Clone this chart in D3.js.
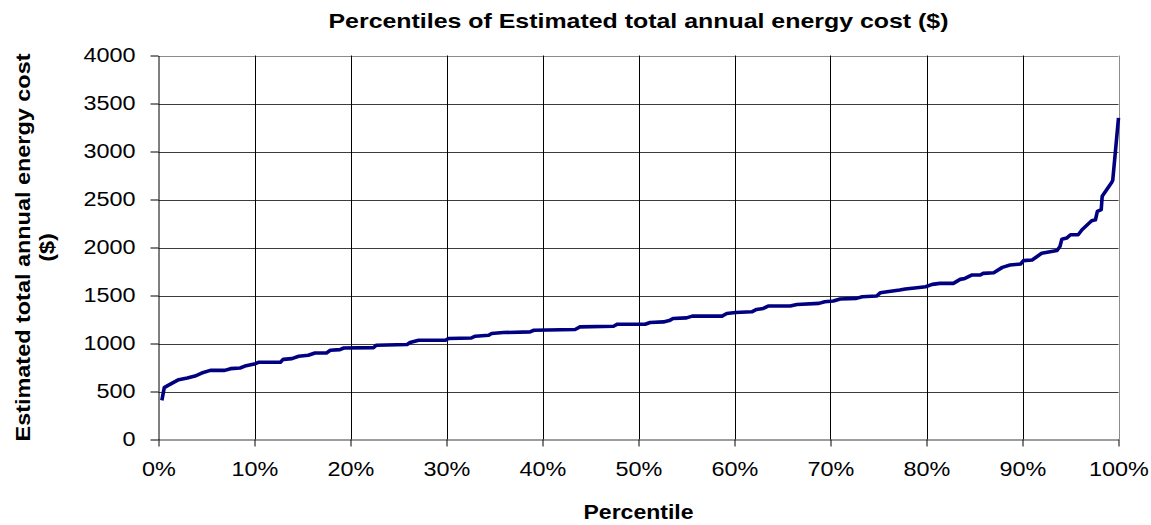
<!DOCTYPE html>
<html>
<head>
<meta charset="utf-8">
<script src="https://cdn.jsdelivr.net/npm/d3@7"></script>
<style>
  html, body { margin: 0; padding: 0; background: #fff; }
  svg { display: block; font-family: Arial, "Liberation Sans", sans-serif; }
</style>
</head>
<body>
<svg id="chart" width="1151" height="525"></svg>
<script>
const percentiles = [0.35,0.6,1.0,2.1,3.0,3.8,4.5,5.4,6.9,7.5,8.5,9.0,10.1,10.4,12.7,13.0,13.9,14.6,15.6,16.3,17.5,17.9,18.9,19.3,22.4,22.7,25.9,26.2,27.1,29.9,30.2,32.6,33.0,34.4,34.7,35.9,38.7,39.1,43.4,43.9,47.4,47.8,50.7,51.2,52.6,53.3,53.6,55.0,55.6,58.7,59.2,60.1,61.8,62.3,63.0,63.5,65.8,66.5,68.8,69.4,70.3,71.0,72.7,73.3,74.8,75.2,75.9,77.2,77.8,79.0,79.9,80.6,81.4,82.8,83.5,84.0,84.7,85.6,85.9,87.0,87.9,88.7,89.8,90.1,91.0,92.0,93.6,93.9,94.1,94.6,95.0,95.8,96.2,97.2,97.6,97.8,98.2,98.3,99.3,99.4,100];
const costs = [407,540,564,623,640,661,692,720,720,738,745,765,790,804,804,835,842,867,877,901,901,929,936,953,957,982,989,1010,1034,1034,1052,1058,1076,1086,1104,1114,1121,1138,1146,1173,1180,1201,1201,1219,1225,1243,1260,1267,1285,1285,1313,1323,1330,1355,1365,1390,1390,1407,1418,1435,1442,1463,1470,1487,1494,1529,1540,1557,1567,1581,1591,1616,1626,1626,1668,1678,1713,1713,1730,1737,1793,1817,1828,1863,1870,1940,1968,2010,2087,2098,2133,2133,2185,2279,2289,2376,2394,2533,2680,2700,3350];
const xTicks = [0,10,20,30,40,50,60,70,80,90,100];
const yTicks = [0,500,1000,1500,2000,2500,3000,3500,4000];
const titleText = "Percentiles of Estimated total annual energy cost ($)";
const xTitle = "Percentile";
const yTitleLines = ["Estimated total annual energy cost", "($)"];

const FONT = "Arial, 'Liberation Sans', sans-serif";
const STRETCH = 1.17;
function stretch(sel) {
  sel.each(function() {
    const w = this.getComputedTextLength();
    d3.select(this).attr("textLength", w * STRETCH).attr("lengthAdjust", "spacingAndGlyphs");
  });
}

const svg = d3.select("#chart");
const L = 158.5, R = 1118.5, T = 55.5, B = 439.5;
const x = d3.scaleLinear().domain([0, 100]).range([L, R]);
const y = d3.scaleLinear().domain([0, 4000]).range([B, T]);

// horizontal gridlines
svg.append("g").selectAll("line").data(yTicks.filter(d => d > 0)).join("line")
  .attr("x1", L).attr("x2", R)
  .attr("y1", d => Math.round(y(d)) + 0.5).attr("y2", d => Math.round(y(d)) + 0.5)
  .attr("stroke", d => d === 4000 ? "#8c8c8c" : "#3c3c3c").attr("stroke-width", 1);

// vertical gridlines
svg.append("g").selectAll("line").data(xTicks.filter(d => d > 0)).join("line")
  .attr("x1", d => Math.round(x(d)) + 0.5).attr("x2", d => Math.round(x(d)) + 0.5)
  .attr("y1", T).attr("y2", B)
  .attr("stroke", d => d === 100 ? "#8c8c8c" : "#000").attr("stroke-width", 1);

// axes
const yAxis = d3.axisLeft(y).tickValues(yTicks).tickFormat(d3.format("d"))
  .tickSize(8).tickSizeOuter(0).tickPadding(15);
const gy = svg.append("g").attr("transform", `translate(${L},0)`).call(yAxis);
gy.select(".domain").attr("stroke", "#000");
gy.selectAll(".tick line").attr("stroke", "#000");
gy.selectAll(".tick text").attr("font-size", "20px").attr("fill", "#000")
  .attr("font-family", FONT).call(stretch);

const xAxis = d3.axisBottom(x).tickValues(xTicks).tickFormat(d => d + "%")
  .tickSize(7).tickSizeOuter(0).tickPadding(15);
const gx = svg.append("g").attr("transform", `translate(0,${B})`).call(xAxis);
gx.select(".domain").attr("stroke", "#3c3c3c");
gx.selectAll(".tick line").attr("stroke", "#000");
gx.selectAll(".tick text").attr("font-size", "20px").attr("fill", "#000")
  .attr("font-family", FONT).call(stretch);

// line
const data = percentiles.map((p, i) => ({p, v: costs[i]}));
svg.append("path").datum(data)
  .attr("fill", "none").attr("stroke", "#000080").attr("stroke-width", 3.6)
  .attr("stroke-linejoin", "round")
  .attr("d", d3.line().x(d => x(d.p)).y(d => y(d.v)));

// titles
svg.append("text").attr("x", (L + R) / 2).attr("y", 28).attr("text-anchor", "middle")
  .attr("font-size", "20.5px").attr("font-weight", "bold").attr("fill", "#000")
  .text(titleText).attr("textLength", 620).attr("lengthAdjust", "spacingAndGlyphs");
svg.append("text").attr("x", (L + R) / 2).attr("y", 519).attr("text-anchor", "middle")
  .attr("font-size", "20px").attr("font-weight", "bold").attr("fill", "#000")
  .text(xTitle).attr("textLength", 110).attr("lengthAdjust", "spacingAndGlyphs");
const yt = svg.append("g").attr("transform", `translate(0,${(T + B) / 2}) rotate(-90)`);
yt.append("text").attr("x", 0).attr("y", 30).attr("text-anchor", "middle")
  .attr("font-size", "20px").attr("font-weight", "bold").attr("fill", "#000")
  .text(yTitleLines[0]).attr("textLength", 388).attr("lengthAdjust", "spacingAndGlyphs");
yt.append("text").attr("x", 0).attr("y", 54).attr("text-anchor", "middle")
  .attr("font-size", "20px").attr("font-weight", "bold").attr("fill", "#000")
  .text(yTitleLines[1]).call(stretch);
</script>
</body>
</html>
